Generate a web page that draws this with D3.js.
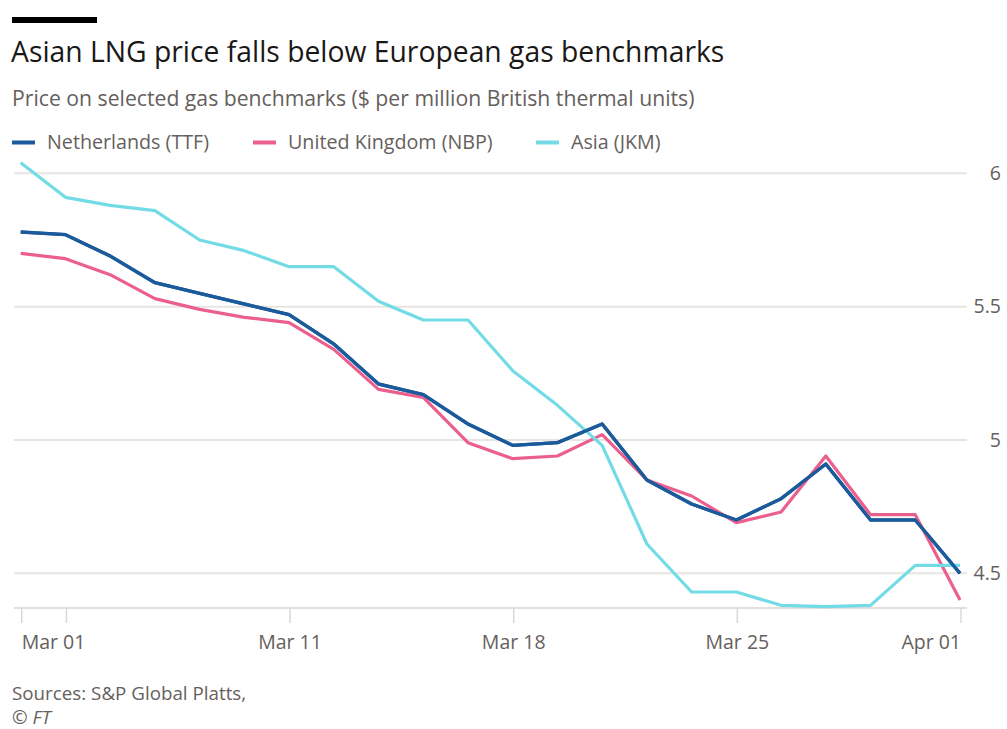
<!DOCTYPE html>
<html>
<head>
<meta charset="utf-8">
<script src="https://cdnjs.cloudflare.com/ajax/libs/d3/7.8.5/d3.min.js"></script>
<style>
  body { margin: 0; background: #fff; }
  text { font-family: "Open Sans", sans-serif; }
</style>
</head>
<body>
<div id="chart-area"></div>
<script>
// trading days, Mar 1 - Apr 1 2019
var dates = ["2019-03-01","2019-03-04","2019-03-05","2019-03-06","2019-03-07","2019-03-08",
             "2019-03-11","2019-03-12","2019-03-13","2019-03-14","2019-03-15",
             "2019-03-18","2019-03-19","2019-03-20","2019-03-21","2019-03-22",
             "2019-03-25","2019-03-26","2019-03-27","2019-03-28","2019-03-29","2019-04-01"];
var ttf = [5.78,5.77,5.69,5.59,5.55,5.51,5.47,5.36,5.21,5.17,5.06,4.98,4.99,5.06,4.85,4.76,4.70,4.78,4.91,4.70,4.70,4.50];
var nbp = [5.70,5.68,5.62,5.53,5.49,5.46,5.44,5.34,5.19,5.16,4.99,4.93,4.94,5.02,4.85,4.79,4.69,4.73,4.94,4.72,4.72,4.40];
var jkm = [6.04,5.91,5.88,5.86,5.75,5.71,5.65,5.65,5.52,5.45,5.45,5.26,5.13,4.98,4.61,4.43,4.43,4.38,4.375,4.38,4.53,4.53];
var seriesNames = ["Netherlands (TTF)","United Kingdom (NBP)","Asia (JKM)"];
var seriesColors = ["#1b5a9b","#eb5f8e","#72dbe5"];
var yTicks = [4.5,5,5.5,6];
var xTickDates = ["2019-03-01","2019-03-04","2019-03-11","2019-03-18","2019-03-25","2019-04-01"];
var xTickLabels = ["Mar 01","","Mar 11","Mar 18","Mar 25","Apr 01"];

var W = 1007, H = 729;
var svg = d3.select("#chart-area").append("svg").attr("width", W).attr("height", H);

// top bar + titles
svg.append("rect").attr("x",12).attr("y",17).attr("width",85).attr("height",6).attr("fill","#000");
svg.append("text").attr("x",11).attr("y",62).style("font-size","28.3px").attr("fill","#1a1817")
   .text("Asian LNG price falls below European gas benchmarks");
svg.append("text").attr("x",12).attr("y",106).style("font-size","21.2px").attr("fill","#66605c")
   .text("Price on selected gas benchmarks ($ per million British thermal units)");

// legend
var legX = [12,253,536];
seriesNames.forEach(function(n,i){
  svg.append("rect").attr("x",legX[i]).attr("y",140.5).attr("width",23).attr("height",4).attr("fill",seriesColors[i]);
  svg.append("text").attr("x",legX[i]+35).attr("y",149).style("font-size","19.7px").attr("fill","#66605c").text(n);
});

var x = d3.scalePoint().domain(dates).range([20.7, 960]);
var y = d3.scaleLinear().domain([4.37, 6.05]).range([608, 160]);
var gx0 = 14, gx1 = 967;

// gridlines
svg.selectAll(".grid").data(yTicks).enter().append("line")
   .attr("x1",gx0).attr("x2",gx1)
   .attr("y1",function(d){return y(d);}).attr("y2",function(d){return y(d);})
   .attr("stroke","#e8e5e1").attr("stroke-width",2);
svg.selectAll(".ylab").data(yTicks).enter().append("text")
   .attr("x",1001).attr("y",function(d){return y(d);}).attr("dy","0.35em")
   .attr("text-anchor","end").style("font-size","19.5px").attr("fill","#66605c")
   .text(function(d){return d;});

// x axis
svg.append("line").attr("x1",gx0).attr("x2",gx1).attr("y1",y(4.37)).attr("y2",y(4.37))
   .attr("stroke","#e3dfdb").attr("stroke-width",2);
svg.selectAll(".xtick").data(xTickDates).enter().append("line")
   .attr("x1",function(d){return x(d)+1;}).attr("x2",function(d){return x(d)+1;})
   .attr("y1",y(4.37)).attr("y2",y(4.37)+15)
   .attr("stroke","#dcd8d4").attr("stroke-width",1.5);
svg.selectAll(".xlab").data(xTickDates).enter().append("text")
   .attr("x",function(d){return x(d)+1;}).attr("y",649)
   .attr("text-anchor",function(d,i){return i==0?"start":(i==xTickDates.length-1?"end":"middle");})
   .style("font-size","19.5px").attr("fill","#66605c")
   .text(function(d,i){return xTickLabels[i];});

// lines
var line = d3.line().x(function(d,i){return x(dates[i]);}).y(function(d){return y(d);});
[ttf,nbp,jkm].forEach(function(s,i){
  svg.append("path").datum(s).attr("d",line).attr("fill","none")
     .attr("stroke",seriesColors[i]).attr("stroke-width",3.2).attr("stroke-linejoin","round");
});
// draw TTF on top like the reference
svg.append("path").datum(ttf).attr("d",line).attr("fill","none")
   .attr("stroke",seriesColors[0]).attr("stroke-width",3.4).attr("stroke-linejoin","round");

// source
svg.append("text").attr("x",12).attr("y",700).style("font-size","18.8px").attr("fill","#66605c")
   .text("Sources: S&P Global Platts,");
svg.append("text").attr("x",12).attr("y",724).style("font-size","18.8px").style("font-style","italic").attr("fill","#66605c")
   .text("\u00a9 FT");
</script>
</body>
</html>
